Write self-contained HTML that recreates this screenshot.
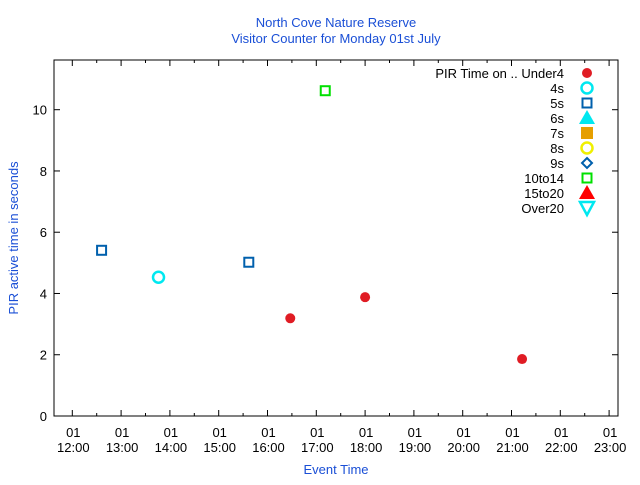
<!DOCTYPE html>
<html><head><meta charset="utf-8"><style>
body{margin:0;background:#fff}
svg text{font-family:"Liberation Sans",sans-serif;font-size:13px}
</style></head><body>
<svg id="chart" width="640" height="480" xmlns="http://www.w3.org/2000/svg">
<text x="336" y="27" text-anchor="middle" fill="#1a4fd6">North Cove Nature Reserve</text>
<text x="336" y="43" text-anchor="middle" fill="#1a4fd6">Visitor Counter for Monday 01st July</text>
<rect x="54" y="60" width="564" height="356" fill="none" stroke="#000" stroke-width="1"/>
<text transform="translate(18,238) rotate(-90)" text-anchor="middle" fill="#1a4fd6">PIR active time in seconds</text>
<text x="336" y="474" text-anchor="middle" fill="#1a4fd6">Event Time</text>
<g id="axes"></g>
<g id="legend"></g>
<g id="marks"></g>
</svg>
<script>
const yTicks=[0,2,4,6,8,10];
const xTickHours=[12,13,14,15,16,17,18,19,20,21,22,23];
const seriesNames=["Under4","4s","5s","6s","7s","8s","9s","10to14","15to20","Over20"];
const under4Times=["16:28","18:00","21:13"];
const under4Values=[3.19,3.88,1.86];
const s4Times=["13:46"];
const s4Values=[4.53];
const s5Times=["12:36","15:37"];
const s5Values=[5.41,5.02];
const s10to14Times=["17:11"];
const s10to14Values=[10.62];

const NS="http://www.w3.org/2000/svg";
const L=54,R=618,T=60,B=416;
function xs(h){return 72.3+(h-12)*48.8;}
function ys(v){return B-v*(B-109.7)/10;}
function tm(s){const p=s.split(":");return +p[0]+(+p[1])/60;}
function mk(tag,attrs,parent){const e=document.createElementNS(NS,tag);for(const k in attrs)e.setAttribute(k,attrs[k]);parent.appendChild(e);return e;}
const axes=document.getElementById('axes');
yTicks.forEach(v=>{
 const y=ys(v);
 const l=mk('line',{x1:L,x2:L+6,y1:y,y2:y,stroke:'#000'},axes);
 
 
 const r=mk('line',{x1:R,x2:R-6,y1:y,y2:y,stroke:'#000'},axes);
 
 
 const t=mk('text',{x:L-7,y:y+5,'text-anchor':'end'},axes);t.textContent=v;
 
 
});
xTickHours.forEach((h,i)=>{
 const x=xs(h);
 [[B,B-6],[T,T+6]].forEach(p=>{const l=mk('line',{x1:x,x2:x,y1:p[0],y2:p[1],stroke:'#000'},axes);
 
 });
 if(i<xTickHours.length-1){const xm=xs(h+0.5);
 [[B,B-3],[T,T+3]].forEach(p=>{const l=mk('line',{x1:xm,x2:xm,y1:p[0],y2:p[1],stroke:'#000'},axes);
 
 });}
 const t1=mk('text',{x:x+1,y:437,'text-anchor':'middle'},axes);t1.textContent='01';
 
 
 const t2=mk('text',{x:x+1,y:452,'text-anchor':'middle'},axes);t2.textContent=h+':00';
 
 
});
function marker(i,x,y,parent){
 let e;
 switch(i){
 case 0:e=mk('circle',{cx:x,cy:y,r:5,fill:'#e01c24'},parent);break;
 case 1:e=mk('circle',{cx:x,cy:y,r:5.5,fill:'none',stroke:'#00e8f0','stroke-width':2.5},parent);break;
 case 2:e=mk('rect',{x:x-4.5,y:y-4.5,width:9,height:9,fill:'none',stroke:'#0060ad','stroke-width':2},parent);break;
 case 3:e=mk('polygon',{points:`${x},${y-8} ${x-8},${y+6} ${x+8},${y+6}`,fill:'#00e8f0'},parent);break;
 case 4:e=mk('rect',{x:x-6,y:y-6,width:12,height:12,fill:'#e69f00'},parent);break;
 case 5:e=mk('circle',{cx:x,cy:y,r:5.5,fill:'none',stroke:'#f0f000','stroke-width':2.5},parent);break;
 case 6:e=mk('polygon',{points:`${x},${y-5} ${x+5},${y} ${x},${y+5} ${x-5},${y}`,fill:'none',stroke:'#0060ad','stroke-width':2},parent);break;
 case 7:e=mk('rect',{x:x-4.5,y:y-4.5,width:9,height:9,fill:'none',stroke:'#00e000','stroke-width':2},parent);break;
 case 8:e=mk('polygon',{points:`${x},${y-8} ${x-8},${y+6} ${x+8},${y+6}`,fill:'#f00'},parent);break;
 case 9:e=mk('polygon',{points:`${x-7},${y-6} ${x+7},${y-6} ${x},${y+7}`,fill:'none',stroke:'#00e8f0','stroke-width':2.5},parent);break;
 }
 return e;
}
const leg=document.getElementById('legend');
seriesNames.forEach((n,i)=>{
 const y=73+i*15;
 const t=mk('text',{x:564,y:y+5,'text-anchor':'end'},leg);
 t.textContent=(i===0?'PIR Time on .. ':'')+n;
 
 
 const m=marker(i,587,y,leg);
 
 
});
const marks=document.getElementById('marks');
[[0,under4Times,under4Values],[1,s4Times,s4Values],[2,s5Times,s5Values],[7,s10to14Times,s10to14Values]].forEach(s=>{
 s[1].forEach((t,j)=>{
  const m=marker(s[0],xs(tm(t)),ys(s[2][j]),marks);
  
  
 });
});
</script>
</body></html>
